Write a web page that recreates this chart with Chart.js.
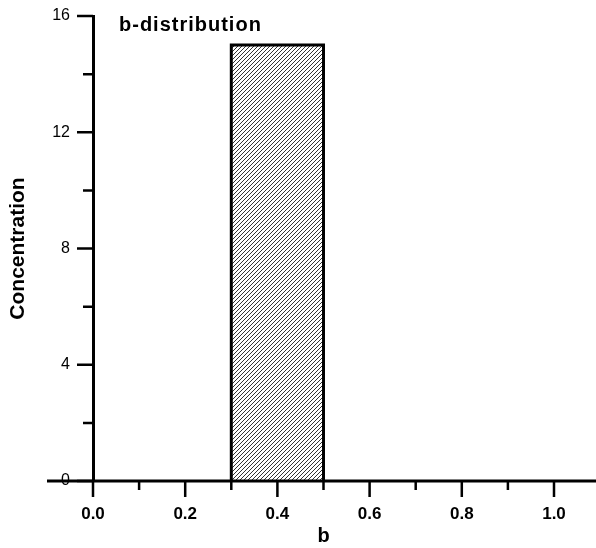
<!DOCTYPE html>
<html>
<head>
<meta charset="utf-8">
<script src="https://cdn.jsdelivr.net/npm/chart.js@4/dist/chart.umd.min.js"></script>
<style>
  html, body { margin: 0; padding: 0; background: #fff; }
  #wrap { width: 596px; height: 548px; }
</style>
</head>
<body>
<div id="wrap"><canvas id="chart"></canvas></div>
<script>
// Datos del histograma
const binLeft = [0.3];
const binRight = [0.5];
const concentration = [15];

// Marcas de los ejes
const xMajorTicks = [0.0, 0.2, 0.4, 0.6, 0.8, 1.0];
const xMinorTicks = [0.1, 0.3, 0.5, 0.7, 0.9];
const yMajorTicks = [0, 4, 8, 12, 16];
const yMinorTicks = [2, 6, 10, 14];

const FONT = "'Liberation Sans', Arial, Helvetica, sans-serif";

// Construir el contorno de las barras
const barPoints = [];
binLeft.forEach((l, i) => {
  barPoints.push({ x: l, y: 0 }, { x: l, y: concentration[i] },
                 { x: binRight[i], y: concentration[i] }, { x: binRight[i], y: 0 });
});

// Patron rayado diagonal
function hatchPattern(ctx) {
  const c = document.createElement('canvas');
  c.width = 4; c.height = 4;
  const g = c.getContext('2d');
  g.fillStyle = '#fff';
  g.fillRect(0, 0, 4, 4);
  g.strokeStyle = '#333';
  g.lineWidth = 1;
  g.beginPath();
  g.moveTo(0, 4); g.lineTo(4, 0);
  g.moveTo(-1, 1); g.lineTo(1, -1);
  g.moveTo(3, 5); g.lineTo(5, 3);
  g.stroke();
  return ctx.createPattern(c, 'repeat');
}

// Ticks, eje x extendido y titulo
const axesPlugin = {
  id: 'axesPlugin',
  afterDraw(chart) {
    const { ctx, scales: { x, y } } = chart;
    const y0 = y.getPixelForValue(0);
    const left = x.getPixelForValue(0);
    ctx.save();
    ctx.strokeStyle = '#000';
    ctx.lineWidth = 3;
    ctx.beginPath();
    ctx.moveTo(47, y0);
    ctx.lineTo(596, y0);
    ctx.stroke();

    ctx.lineWidth = 2.5;
    ctx.beginPath();
    xMajorTicks.forEach(v => { const p = x.getPixelForValue(v); ctx.moveTo(p, y0); ctx.lineTo(p, y0 + 16); });
    xMinorTicks.forEach(v => { const p = x.getPixelForValue(v); ctx.moveTo(p, y0); ctx.lineTo(p, y0 + 9); });
    yMajorTicks.forEach(v => { const p = y.getPixelForValue(v); ctx.moveTo(left - 16, p); ctx.lineTo(left, p); });
    yMinorTicks.forEach(v => { const p = y.getPixelForValue(v); ctx.moveTo(left - 10, p); ctx.lineTo(left, p); });
    ctx.stroke();

    ctx.fillStyle = '#000';
    ctx.font = 'bold 20px ' + FONT;
    ctx.letterSpacing = '1px';
    ctx.textBaseline = 'alphabetic';
    ctx.fillText('b-distribution', 119, 31);
    ctx.restore();
  }
};

const ctx = document.getElementById('chart').getContext('2d');
const chart = new Chart(ctx, {
  type: 'line',
  data: {
    datasets: [{
      data: barPoints,
      borderColor: '#000',
      borderWidth: 3,
      borderJoinStyle: 'miter',
      backgroundColor: hatchPattern(ctx),
      fill: 'origin',
      tension: 0,
      pointRadius: 0
    }]
  },
  options: {
    responsive: true,
    maintainAspectRatio: false,
    animation: false,
    layout: { padding: { top: 16, right: 42, bottom: 0, left: 0 } },
    plugins: { legend: { display: false }, tooltip: { enabled: false } },
    scales: {
      x: {
        type: 'linear',
        min: 0,
        max: 1,
        grid: { display: false },
        border: { display: false },
        afterFit: s => { s.height = 67; s.paddingLeft = 0; s.paddingRight = 0; },
        ticks: {
          stepSize: 0.2,
          padding: 15,
          color: '#000',
          font: { family: FONT, size: 17, weight: 'bold' },
          callback: v => v.toFixed(1)
        },
        title: {
          display: true,
          text: 'b',
          color: '#000',
          font: { family: FONT, size: 20, weight: 'bold' },
          padding: { top: 0, bottom: 0 }
        }
      },
      y: {
        min: 0,
        max: 16,
        grid: { display: false },
        border: { display: true, color: '#000', width: 3 },
        afterFit: s => { s.width = 93; s.paddingTop = 0; s.paddingBottom = 0; },
        ticks: {
          stepSize: 4,
          padding: 15,
          color: '#000',
          font: { family: FONT, size: 16 }
        },
        title: {
          display: true,
          text: 'Concentration',
          color: '#000',
          font: { family: FONT, size: 21, weight: 'bold' },
          padding: { top: 6, bottom: 0 }
        }
      }
    }
  },
  plugins: [axesPlugin]
});
</script>
</body>
</html>
